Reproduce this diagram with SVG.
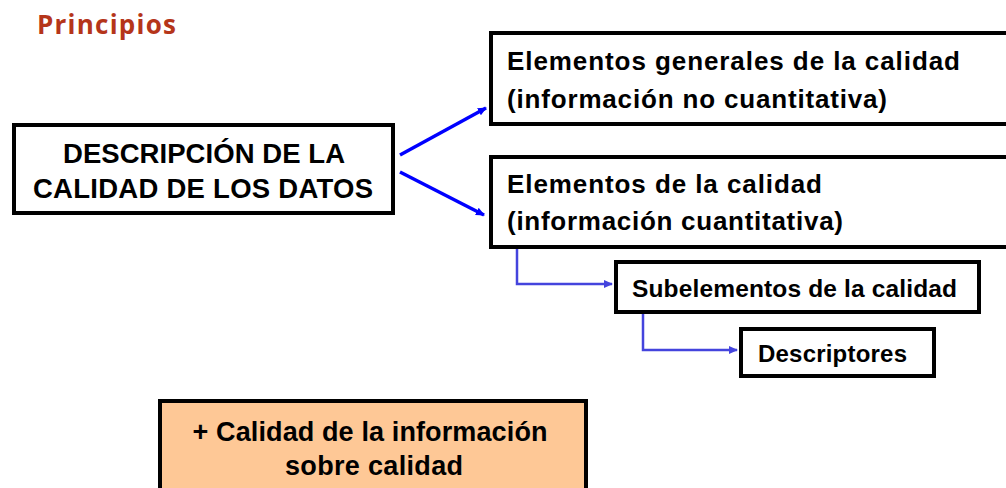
<svg xmlns="http://www.w3.org/2000/svg" width="1006" height="488" viewBox="0 0 1006 488">
<defs>
<style>
.box{fill:#fff;stroke:#000;stroke-width:4}
.t{font-family:"Liberation Sans",Arial,sans-serif;font-weight:bold;fill:#000}
.c1{stroke:#0000ff;stroke-width:3.5;fill:none}
.c2{stroke:#4444dd;stroke-width:2.5;fill:none}
</style>
<marker id="a1" markerWidth="10" markerHeight="10" refX="8" refY="5" orient="auto" markerUnits="userSpaceOnUse"><path d="M0,1 L9,5 L0,9 Z" fill="#0000ff"/></marker>
<marker id="a2" markerWidth="10" markerHeight="10" refX="8" refY="5" orient="auto" markerUnits="userSpaceOnUse"><path d="M0,1 L9,5 L0,9 Z" fill="#4444dd"/></marker>
</defs>
<rect width="1006" height="488" fill="#fff"/>
<text x="37" y="34" font-family="'Open Sans',sans-serif" font-weight="bold" font-size="26" fill="#b5351a" textLength="139" lengthAdjust="spacing">Principios</text>
<g id="connectors">
<line class="c1" x1="400" y1="155" x2="486" y2="108" marker-end="url(#a1)"/>
<line class="c1" x1="400" y1="172" x2="484" y2="215" marker-end="url(#a1)"/>
<polyline class="c2" points="517,249 517,284 612,284" marker-end="url(#a2)"/>
<polyline class="c2" points="643,313 643,350 737,350" marker-end="url(#a2)"/>
</g>
<g id="n-main">
<rect class="box" x="14" y="125" width="379" height="88"/>
<text class="t" x="204" y="163" font-size="27.5" text-anchor="middle" textLength="282" lengthAdjust="spacing">DESCRIPCIÓN DE LA</text>
<text class="t" x="203" y="198" font-size="27.5" text-anchor="middle" textLength="340" lengthAdjust="spacing">CALIDAD DE LOS DATOS</text>
</g>
<g id="n-generales">
<rect class="box" x="491" y="33" width="520" height="91"/>
<text class="t" x="507" y="70" font-size="26" textLength="453" lengthAdjust="spacing">Elementos generales de la calidad</text>
<text class="t" x="507" y="108" font-size="26" textLength="380" lengthAdjust="spacing">(información no cuantitativa)</text>
</g>
<g id="n-elementos">
<rect class="box" x="491" y="157" width="520" height="90"/>
<text class="t" x="507" y="193" font-size="26" textLength="315" lengthAdjust="spacing">Elementos de la calidad</text>
<text class="t" x="507" y="230" font-size="26" textLength="336" lengthAdjust="spacing">(información cuantitativa)</text>
</g>
<g id="n-sub">
<rect class="box" x="616" y="262" width="363" height="50"/>
<text class="t" x="632" y="297" font-size="24.5" textLength="325" lengthAdjust="spacing">Subelementos de la calidad</text>
</g>
<g id="n-desc">
<rect class="box" x="741" y="329" width="193" height="47"/>
<text class="t" x="758" y="362" font-size="24" textLength="149" lengthAdjust="spacing">Descriptores</text>
</g>
<g id="n-info">
<rect x="160" y="401" width="426" height="100" fill="#fec896" stroke="#000" stroke-width="4"/>
<text class="t" x="370" y="441" font-size="27" text-anchor="middle" textLength="355" lengthAdjust="spacing">+ Calidad de la información</text>
<text class="t" x="374" y="475" font-size="27" text-anchor="middle" textLength="178" lengthAdjust="spacing">sobre calidad</text>
</g>
</svg>
